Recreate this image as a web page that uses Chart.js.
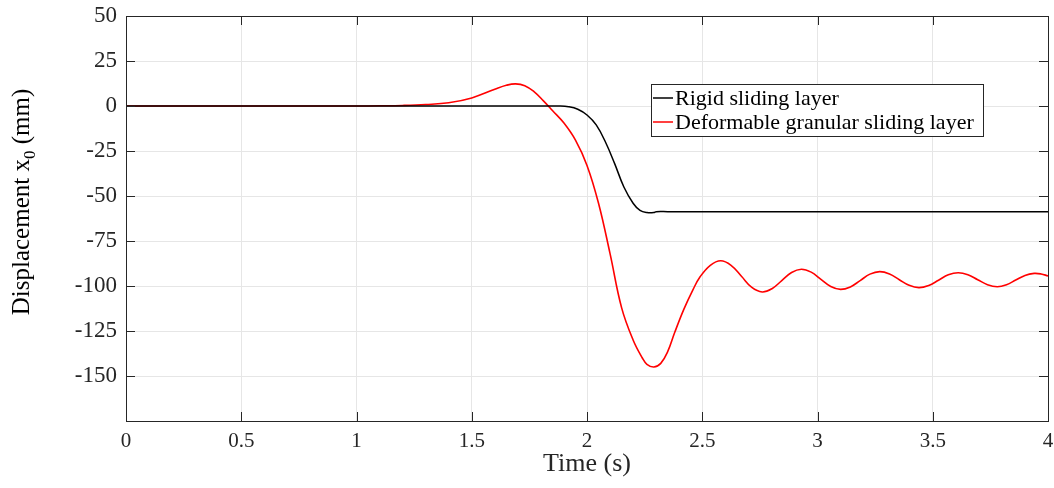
<!DOCTYPE html>
<html>
<head>
<meta charset="utf-8">
<script src="https://cdn.jsdelivr.net/npm/chart.js@4/dist/chart.umd.min.js"></script>
<style>
  body { margin: 0; background: #fff; }
  canvas { display: block; }
</style>
</head>
<body>
<canvas id="chart" width="1054" height="488"></canvas>
<script>
// Rigid sliding layer (black)
const timeRigid = [0, 1.0, 1.8, 1.88, 1.92, 1.96, 2.0, 2.04, 2.08, 2.12, 2.16, 2.2, 2.23, 2.26, 2.29, 2.3, 2.35, 3.0, 4.0];
const rigid     = [0, 0, 0, 0, -0.4, -1.8, -5, -10.5, -20, -32, -45, -54, -58, -59.2, -59.2, -58.7, -58.7, -58.7, -58.7];

// Deformable granular sliding layer (red)
const timeGranular = [0, 1.0, 1.1, 1.2, 1.3, 1.4, 1.5, 1.6, 1.65, 1.69, 1.73, 1.77, 1.81, 1.85, 1.9, 1.95, 2.0, 2.05, 2.1,
  2.15, 2.2, 2.24, 2.26, 2.29, 2.32, 2.35, 2.38, 2.42, 2.46, 2.49, 2.535, 2.58,
  2.625, 2.67, 2.715, 2.76, 2.8025, 2.845, 2.8875, 2.93, 2.9725, 3.015, 3.0575, 3.1, 3.1425, 3.185, 3.2275, 3.27,
  3.3125, 3.355, 3.3975, 3.44, 3.4825, 3.525, 3.5675, 3.61, 3.6525, 3.695, 3.7375, 3.78, 3.82, 3.86, 3.9, 3.94, 3.97, 4.0];
const granular = [0, 0, 0.1, 0.3, 0.8, 1.8, 4.5, 9.3, 11.5, 12.3, 11.3, 8, 3, -2.5, -9.5, -19, -33, -54, -82,
  -112, -130, -140, -143.5, -145, -143, -136.5, -126, -113, -102, -95, -88.5, -86,
  -88.5, -94.6, -100.8, -103.3, -101.5, -97, -92.5, -90.7, -92.3, -96.3, -100.3, -101.9, -100.5, -97, -93.4, -92,
  -93.3, -96.5, -99.6, -100.9, -99.7, -96.8, -93.8, -92.6, -93.7, -96.5, -99.3, -100.4, -99.3, -96.7, -94.1, -93, -93.3, -94.4];

const seriesLabels = ['Rigid sliding layer', 'Deformable granular sliding layer'];
const seriesColors = ['#000000', '#ff0000'];

const FONT = "'Liberation Serif', 'Times New Roman', serif";

function toPoints(xs, ys) {
  return xs.map((x, i) => ({ x: x, y: ys[i] }));
}

// box around the axes + inward ticks on all four sides
const boxPlugin = {
  id: 'box',
  afterDraw(chart) {
    const ctx = chart.ctx, a = chart.chartArea;
    const xs = chart.scales.x, ys = chart.scales.y;
    ctx.save();
    ctx.strokeStyle = '#262626';
    ctx.lineWidth = 1;
    ctx.beginPath();
    const L = 9;
    xs.ticks.forEach(t => {
      const p = Math.round(xs.getPixelForValue(t.value)) + 0.5;
      ctx.moveTo(p, a.bottom); ctx.lineTo(p, a.bottom - L);
      ctx.moveTo(p, a.top); ctx.lineTo(p, a.top + L);
    });
    ys.ticks.forEach(t => {
      const p = Math.round(ys.getPixelForValue(t.value)) + 0.5;
      ctx.moveTo(a.left, p); ctx.lineTo(a.left + L, p);
      ctx.moveTo(a.right, p); ctx.lineTo(a.right - L, p);
    });
    ctx.stroke();
    ctx.strokeRect(Math.round(a.left) + 0.5, Math.round(a.top) + 0.5,
                   Math.round(a.right - a.left), Math.round(a.bottom - a.top));
    ctx.restore();
  }
};

// legend box inside the plot
const legendPlugin = {
  id: 'boxLegend',
  afterDraw(chart) {
    const ctx = chart.ctx;
    ctx.save();
    ctx.fillStyle = '#fff';
    ctx.fillRect(651, 84, 332, 52);
    ctx.strokeStyle = '#262626';
    ctx.lineWidth = 1;
    ctx.strokeRect(651.5, 84.5, 332, 52);
    ctx.font = '22px ' + FONT;
    ctx.textBaseline = 'middle';
    chart.data.datasets.forEach((ds, i) => {
      const y = 98 + i * 24;
      ctx.strokeStyle = ds.borderColor;
      ctx.lineWidth = 1.5;
      ctx.beginPath();
      ctx.moveTo(653, y); ctx.lineTo(673, y);
      ctx.stroke();
      ctx.fillStyle = '#000';
      ctx.fillText(ds.label, 675, y + 1);
    });
    ctx.restore();
  }
};

// y title with a subscript
const yTitlePlugin = {
  id: 'yTitle',
  afterDraw(chart) {
    const ctx = chart.ctx;
    ctx.save();
    ctx.translate(29, 202);
    ctx.rotate(-Math.PI / 2);
    ctx.fillStyle = '#000';
    ctx.textBaseline = 'alphabetic';
    const big = '25px ' + FONT, small = '17px ' + FONT;
    const p1 = 'Displacement x', p2 = '0', p3 = ' (mm)';
    ctx.font = big;
    const w1 = ctx.measureText(p1).width, w3 = ctx.measureText(p3).width;
    ctx.font = small;
    const w2 = ctx.measureText(p2).width;
    let x = -(w1 + w2 + w3) / 2;
    ctx.font = big; ctx.fillText(p1, x, 0); x += w1;
    ctx.font = small; ctx.fillText(p2, x, 6); x += w2;
    ctx.font = big; ctx.fillText(p3, x, 0);
    ctx.restore();
  }
};

new Chart(document.getElementById('chart'), {
  type: 'line',
  data: {
    datasets: [
      { label: seriesLabels[0], data: toPoints(timeRigid, rigid), borderColor: seriesColors[0], borderWidth: 1.5,
        pointRadius: 0, fill: false, tension: 0.4 },
      { label: seriesLabels[1], data: toPoints(timeGranular, granular), borderColor: seriesColors[1], borderWidth: 1.6,
        pointRadius: 0, fill: false, tension: 0.4 }
    ]
  },
  options: {
    responsive: false,
    animation: false,
    layout: { autoPadding: false, padding: { top: 16, right: 6, left: 0, bottom: 0 } },
    plugins: { legend: { display: false }, tooltip: { enabled: false } },
    scales: {
      x: {
        type: 'linear', min: 0, max: 4,
        afterFit(scale) { scale.height = 67; scale.paddingLeft = 0; scale.paddingRight = 0; },
        ticks: { stepSize: 0.5, color: '#262626', padding: 8, maxRotation: 0, font: { family: FONT, size: 21 },
          callback: v => String(v) },
        grid: { color: '#e6e6e6', drawTicks: false },
        border: { display: false },
        title: { display: true, text: 'Time (s)', color: '#262626', font: { family: FONT, size: 26 }, padding: { top: 0, bottom: 8 } }
      },
      y: {
        min: -175, max: 50,
        afterFit(scale) { scale.width = 126; scale.paddingTop = 0; scale.paddingBottom = 0; },
        ticks: {
          stepSize: 25, color: '#262626', padding: 9, font: { family: FONT, size: 23 },
          callback: v => (v === -175 ? '' : String(v))
        },
        grid: { color: '#e6e6e6', drawTicks: false },
        border: { display: false }
      }
    }
  },
  plugins: [boxPlugin, legendPlugin, yTitlePlugin]
});
</script>
</body>
</html>
